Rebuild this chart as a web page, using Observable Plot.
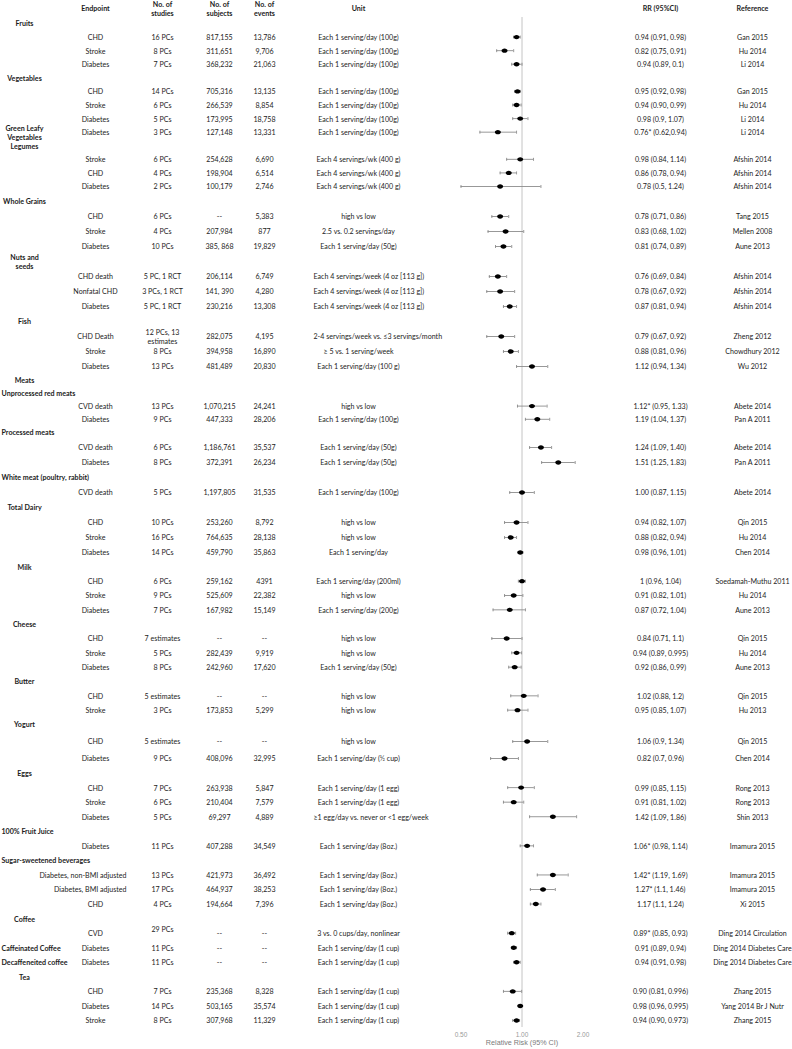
<!DOCTYPE html>
<html><head><meta charset="utf-8">
<script src="https://cdn.jsdelivr.net/npm/d3@7"></script>
<script src="https://cdn.jsdelivr.net/npm/@observablehq/plot@0.6"></script>
<style>html,body{margin:0;padding:0;background:#fff}#chart svg{display:block}</style>
</head><body><div id="chart"></div>
<script>
// ---- DATA (one entry per table row) ----
const category = ["Fruits","","","","Vegetables","","","","Green Leafy\nVegetables","Legumes","","","","Whole Grains","","","","Nuts and\nseeds","","","","Fish","","","","Meats","Unprocessed red meats","","","Processed meats","","","White meat (poultry, rabbit)","","Total Dairy","","","","Milk","","","","Cheese","","","","Butter","","","Yogurt","","","Eggs","","","","100% Fruit Juice","","Sugar-sweetened beverages","","","","Coffee","","Caffeinated Coffee","Decaffeneited coffee","Tea","","",""];
const endpoint = ["","CHD","Stroke","Diabetes","","CHD","Stroke","Diabetes","Diabetes","","Stroke","CHD","Diabetes","","CHD","Stroke","Diabetes","","CHD death","Nonfatal CHD","Diabetes","","CHD Death","Stroke","Diabetes","","","CVD death","Diabetes","","CVD death","Diabetes","","CVD death","","CHD","Stroke","Diabetes","","CHD","Stroke","Diabetes","","CHD","Stroke","Diabetes","","CHD","Stroke","","CHD","Diabetes","","CHD","Stroke","Diabetes","","Diabetes","","Diabetes, non-BMI adjusted","Diabetes, BMI adjusted","CHD","","CVD","Diabetes","Diabetes","","CHD","Diabetes","Stroke"];
const studies = ["","16 PCs","8 PCs","7 PCs","","14 PCs","6 PCs","5 PCs","3 PCs","","6 PCs","4 PCs","2 PCs","","6 PCs","4 PCs","10 PCs","","5 PC, 1 RCT","3 PCs, 1 RCT","5 PC, 1 RCT","","12 PCs, 13\nestimates","8 PCs","13 PCs","","","13 PCs","9 PCs","","6 PCs","8 PCs","","5 PCs","","10 PCs","16 PCs","14 PCs","","6 PCs","9 PCs","7 PCs","","7 estimates","5 PCs","8 PCs","","5 estimates","3 PCs","","5 estimates","9 PCs","","7 PCs","6 PCs","5 PCs","","11 PCs","","13 PCs","17 PCs","4 PCs","","29 PCs\n","11 PCs","11 PCs","","7 PCs","14 PCs","8 PCs"];
const subjects = ["","817,155","311,651","368,232","","705,316","266,539","173,995","127,148","","254,628","198,904","100,179","","--","207,984","385, 868","","206,114","141, 390","230,216","","282,075","394,958","481,489","","","1,070,215","447,333","","1,186,761","372,391","","1,197,805","","253,260","764,635","459,790","","259,162","525,609","167,982","","--","282,439","242,960","","--","173,853","","--","408,096","","263,938","210,404","69,297","","407,288","","421,973","464,937","194,664","","--","--","--","","235,368","503,165","307,968"];
const events = ["","13,786","9,706","21,063","","13,135","8,854","18,758","13,331","","6,690","6,514","2,746","","5,383","877","19,829","","6,749","4,280","13,308","","4,195","16,890","20,830","","","24,241","28,206","","35,537","26,234","","31,535","","8,792","28,138","35,863","","4391","22,382","15,149","","--","9,919","17,620","","--","5,299","","--","32,995","","5,847","7,579","4,889","","34,549","","36,492","38,253","7,396","","--","--","--","","8,328","35,574","11,329"];
const unit = ["","Each 1 serving/day (100g)","Each 1 serving/day (100g)","Each 1 serving/day (100g)","","Each 1 serving/day (100g)","Each 1 serving/day (100g)","Each 1 serving/day (100g)","Each 1 serving/day (100g)","","Each 4 servings/wk (400 g)","Each 4 servings/wk (400 g)","Each 4 servings/wk (400 g)","","high vs low","2.5 vs. 0.2 servings/day","Each 1 serving/day (50g)","","Each 4 servings/week (4 oz [113 g])","Each 4 servings/week (4 oz [113 g])","Each 4 servings/week (4 oz [113 g])","","2-4 servings/week vs. ≤3 servings/month","≥ 5 vs. 1 serving/week","Each 1 serving/day (100 g)","","","high vs low","Each 1 serving/day (100g)","","Each 1 serving/day (50g)","Each 1 serving/day (50g)","","Each 1 serving/day (100g)","","high vs low","high vs low","Each 1 serving/day","","Each 1 serving/day (200ml)","high vs low","Each 1 serving/day (200g)","","high vs low","high vs low","Each 1 serving/day (50g)","","high vs low","high vs low","","high vs low","Each 1 serving/day (½ cup)","","Each 1 serving/day (1 egg)","Each 1 serving/day (1 egg)","≥1 egg/day vs. never or <1 egg/week","","Each 1 serving/day (8oz.)","","Each 1 serving/day (8oz.)","Each 1 serving/day (8oz.)","Each 1 serving/day (8oz.)","","3 vs. 0 cups/day, nonlinear","Each 1 serving/day (1 cup)","Each 1 serving/day (1 cup)","","Each 1 serving/day (1 cup)","Each 1 serving/day (1 cup)","Each 1 serving/day (1 cup)"];
const rrText = ["","0.94 (0.91, 0.98)","0.82 (0.75, 0.91)","0.94 (0.89, 0.1)","","0.95 (0.92, 0.98)","0.94 (0.90, 0.99)","0.98 (0.9, 1.07)","0.76* (0.62,0.94)","","0.98 (0.84, 1.14)","0.86 (0.78, 0.94)","0.78 (0.5, 1.24)","","0.78 (0.71, 0.86)","0.83 (0.68, 1.02)","0.81 (0.74, 0.89)","","0.76 (0.69, 0.84)","0.78 (0.67, 0.92)","0.87 (0.81, 0.94)","","0.79 (0.67, 0.92)","0.88 (0.81, 0.96)","1.12 (0.94, 1.34)","","","1.12* (0.95, 1.33)","1.19 (1.04, 1.37)","","1.24 (1.09, 1.40)","1.51 (1.25, 1.83)","","1.00 (0.87, 1.15)","","0.94 (0.82, 1.07)","0.88 (0.82, 0.94)","0.98 (0.96, 1.01)","","1 (0.96, 1.04)","0.91 (0.82, 1.01)","0.87 (0.72, 1.04)","","0.84 (0.71, 1.1)","0.94 (0.89, 0.995)","0.92 (0.86, 0.99)","","1.02 (0.88, 1.2)","0.95 (0.85, 1.07)","","1.06 (0.9, 1.34)","0.82 (0.7, 0.96)","","0.99 (0.85, 1.15)","0.91 (0.81, 1.02)","1.42 (1.09, 1.86)","","1.06* (0.98, 1.14)","","1.42* (1.19, 1.69)","1.27* (1.1, 1.46)","1.17 (1.1, 1.24)","","0.89* (0.85, 0.93)","0.91 (0.89, 0.94)","0.94 (0.91, 0.98)","","0.90 (0.81, 0.996)","0.98 (0.96, 0.995)","0.94 (0.90, 0.973)"];
const reference = ["","Gan 2015","Hu 2014","Li 2014","","Gan 2015","Hu 2014","Li 2014","Li 2014","","Afshin 2014","Afshin 2014","Afshin 2014","","Tang 2015","Mellen 2008","Aune 2013","","Afshin 2014","Afshin 2014","Afshin 2014","","Zheng 2012","Chowdhury 2012","Wu 2012","","","Abete 2014","Pan A 2011","","Abete 2014","Pan A 2011","","Abete 2014","","Qin 2015","Hu 2014","Chen 2014","","Soedamah-Muthu 2011","Hu 2014","Aune 2013","","Qin 2015","Hu 2014","Aune 2013","","Qin 2015","Hu 2013","","Qin 2015","Chen 2014","","Rong 2013","Rong 2013","Shin 2013","","Imamura 2015","","Imamura 2015","Imamura 2015","Xi 2015","","Ding 2014 Circulation","Ding 2014 Diabetes Care","Ding 2014 Diabetes Care","","Zhang 2015","Yang 2014 Br J Nutr","Zhang 2015"];
// plotted estimates (as drawn)
const rr = [null,.94,.82,.94,null,.95,.94,.98,.76,null,.98,.86,.78,null,.78,.83,.81,null,.76,.78,.87,null,.79,.88,1.12,null,null,1.12,1.19,null,1.24,1.51,null,1.00,null,.94,.88,.98,null,1,.91,.87,null,.84,.94,.92,null,1.02,.95,null,1.06,.82,null,.99,.91,1.42,null,1.06,null,1.42,1.27,1.17,null,.89,.91,.94,null,.90,.98,.94];
const lo = [null,.91,.75,.89,null,.92,.90,.9,.62,null,.84,.78,.5,null,.71,.68,.74,null,.69,.67,.81,null,.67,.81,.94,null,null,.95,1.04,null,1.09,1.25,null,.87,null,.82,.82,.96,null,.96,.82,.72,null,.71,.89,.86,null,.88,.85,null,.9,.7,null,.85,.81,1.09,null,.98,null,1.19,1.1,1.1,null,.85,.89,.91,null,.81,.96,.90];
const hi = [null,.98,.91,1.0,null,.98,.99,1.07,.94,null,1.14,.94,1.24,null,.86,1.02,.89,null,.84,.92,.94,null,.92,.96,1.34,null,null,1.33,1.37,null,1.40,1.83,null,1.15,null,1.07,.94,1.01,null,1.04,1.01,1.04,null,1.0,.995,.99,null,1.2,1.07,null,1.34,.96,null,1.15,1.02,1.86,null,1.14,null,1.69,1.46,1.24,null,.93,.94,.98,null,.996,.995,.973];
const headers = {endpoint: "Endpoint", studies: "No. of\nstudies", subjects: "No. of\nsubjects", events: "No. of\nevents", unit: "Unit", rr: "RR (95%CI)", reference: "Reference"};
const xTicks = [0.5, 1, 2];
const xLabel = "Relative Risk (95% CI)";

// ---- LAYOUT ----
const idx = d3.range(category.length);
const Y = i => i + 1;
const nonEmpty = a => idx.filter(i => a[i] !== "" && a[i] != null);
const maxLine = s => Math.max(...s.split("\n").map(l => l.length));
const FONT = "Lato, 'Open Sans', sans-serif";
const FS = 7.1;
const INK = "#1c1c1c";
const base = {fontFamily: FONT, fontSize: FS, fill: INK, lineHeight: 1.3, frameAnchor: "left"};

function body(arr, dx, anchor = "middle", filter = () => true, weight = "normal") {
  return Plot.text(nonEmpty(arr).filter(filter), {...base, y: Y, text: i => arr[i], dx, textAnchor: anchor, fontWeight: weight});
}
function head(label, dx) {
  return Plot.text([label], {...base, y: () => 0, text: d => d, dx, textAnchor: "middle", fontWeight: "bold"});
}

const ellipse = {draw(ctx, size) {
  const r = Math.sqrt(size / Math.PI), rx = r * 1.2, ry = r * 0.88, k = 0.5523;
  ctx.moveTo(rx, 0);
  ctx.bezierCurveTo(rx, ry * k, rx * k, ry, 0, ry);
  ctx.bezierCurveTo(-rx * k, ry, -rx, ry * k, -rx, 0);
  ctx.bezierCurveTo(-rx, -ry * k, -rx * k, -ry, 0, -ry);
  ctx.bezierCurveTo(rx * k, -ry, rx, -ry * k, rx, 0);
  ctx.closePath();
}};
const vbar = {draw(ctx, size) { const h = Math.sqrt(size / Math.PI); ctx.moveTo(0, -h); ctx.lineTo(0, h); }};

const est = idx.filter(i => rr[i] != null);
const caps = est.flatMap(i => [{i, v: lo[i]}, {i, v: hi[i]}]);

const chart = Plot.plot({
  width: 792, height: 1049,
  marginLeft: 0, marginRight: 0, marginTop: 17, marginBottom: 22,
  style: {background: "#fff"},
  x: {type: "log", domain: [0.5, 2], range: [460.5, 582.5]},
  y: {type: "linear", domain: [0, 1, 13, 25, 30, 38, 50, 52, 70], range: [8, 23, 186, 366, 432, 552, 724, 758, 1020], axis: null},
  marks: [
    Plot.ruleX([1], {stroke: "#c4c4c4", strokeWidth: 1}),
    Plot.ruleY(est, {y: Y, x1: i => lo[i], x2: i => hi[i], stroke: "#8c8c8c", strokeWidth: 0.9}),
    Plot.dot(caps, {x: "v", y: d => Y(d.i), symbol: vbar, r: 1.5, stroke: "#8c8c8c", fill: "none", strokeWidth: 0.9}),
    Plot.dot(est, {x: i => rr[i], y: Y, symbol: ellipse, r: 2.5, fill: "#000", stroke: "none"}),
    // category column
    body(category, 24, "middle", i => maxLine(category[i]) <= 13, "bold"),
    body(category, 1, "start", i => maxLine(category[i]) > 13, "bold"),
    // endpoint
    head(headers.endpoint, 95),
    body(endpoint, 95, "middle", i => endpoint[i].length <= 12),
    body(endpoint, 126, "end", i => endpoint[i].length > 12),
    head(headers.studies, 162), body(studies, 162),
    head(headers.subjects, 219), body(subjects, 219),
    head(headers.events, 264), body(events, 264),
    head(headers.unit, 358),
    body(unit, 358, "middle", i => unit[i].length <= 28),
    body(unit, 313, "start", i => unit[i].length > 28),
    head(headers.rr, 660), body(rrText, 660),
    head(headers.reference, 752), body(reference, 752),
    Plot.axisX({ticks: xTicks, tickFormat: d3.format(".2f"), tickSize: 0, tickPadding: 5, label: null,
      fontSize: 6.5, fontFamily: "'Liberation Sans', Arial, sans-serif", color: "#9a9a9a", letterSpacing: "1px"}),
    Plot.text([xLabel], {x: () => 1, text: d => d, frameAnchor: "bottom", dy: 17, fontSize: 7.2,
      fontFamily: "'Liberation Sans', Arial, sans-serif", fill: "#7a7a7a", letterSpacing: "0.9px"})
  ]
});
document.getElementById("chart").appendChild(chart);
</script>
</body></html>
